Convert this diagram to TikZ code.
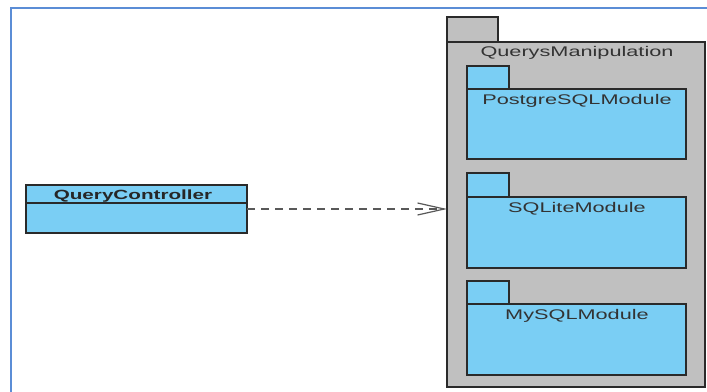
\documentclass[tikz,border=0pt]{standalone}
\usepackage{fontspec}
\setmainfont{Liberation Sans}
\usetikzlibrary{arrows.meta}
\definecolor{umlblue}{HTML}{7ACEF4}
\definecolor{pkggray}{HTML}{C0C0C0}
\definecolor{frameblue}{HTML}{5B8DD6}
\definecolor{edge}{HTML}{2A2A2A}
\newcommand{\widetxt}[1]{\scalebox{1.55}[1]{#1}}
\begin{document}
\begin{tikzpicture}[x=0.75pt,y=-0.75pt,
  box/.style={draw=edge, line width=0.9pt, anchor=north west, inner sep=0pt, outer sep=0pt},
  bluebox/.style={box, fill=umlblue},
  graybox/.style={box, fill=pkggray},
  lbl/.style={font=\fontsize{10.5}{12}\selectfont, text=black!80, anchor=north},
]
\useasboundingbox (0,0) rectangle (707,392);
\fill[white] (0,0) rectangle (707,392);
% outer frame
\draw[frameblue, line width=1.6pt] (11,392) -- (11,8) -- (707,8);

% QuerysManipulation package
\node[graybox, minimum width=38.25pt, minimum height=18.75pt] (qmtab) at (447,17) {};
\node[graybox, minimum width=193.5pt, minimum height=258.75pt] (qm) at (447,42) {};
\node[lbl] (qmlbl) at (577,41.5) {\widetxt{QuerysManipulation}};

% PostgreSQLModule
\node[bluebox, minimum width=31.5pt, minimum height=17.25pt] (pgtab) at (467,66) {};
\node[bluebox, minimum width=164.25pt, minimum height=52.5pt] (pg) at (467,89) {};
\node[lbl] (pglbl) at (577,90) {\widetxt{PostgreSQLModule}};

% SQLiteModule
\node[bluebox, minimum width=31.5pt, minimum height=18pt] (sltab) at (467,173) {};
\node[bluebox, minimum width=164.25pt, minimum height=53.25pt] (sl) at (467,197) {};
\node[lbl] (sllbl) at (577,198) {\widetxt{SQLiteModule}};

% MySQLModule
\node[bluebox, minimum width=31.5pt, minimum height=17.25pt] (mytab) at (467,281) {};
\node[bluebox, minimum width=164.25pt, minimum height=53.25pt] (my) at (467,304) {};
\node[lbl] (mylbl) at (577,305) {\widetxt{MySQLModule}};

% QueryController class
\node[bluebox, minimum width=165.75pt, minimum height=36pt] (qc) at (26,185) {};
\node[font=\bfseries\fontsize{10}{12}\selectfont, text=black!85, anchor=north] (qclbl) at (133,185) {\widetxt{QueryController}};
\draw[edge, line width=0.9pt] (qc.west |- 0,203) coordinate (dl) -- (qc.east |- 0,203) coordinate (dr);

% dependency
\coordinate (tgt) at (qc.east -| qm.west);
\draw[black!65, line width=0.9pt, dash pattern=on 6pt off 4.5pt,
  -{Straight Barb[length=20pt, width=9pt, line width=0.9pt]}] (qc.east) -- (tgt);
\end{tikzpicture}
\end{document}
